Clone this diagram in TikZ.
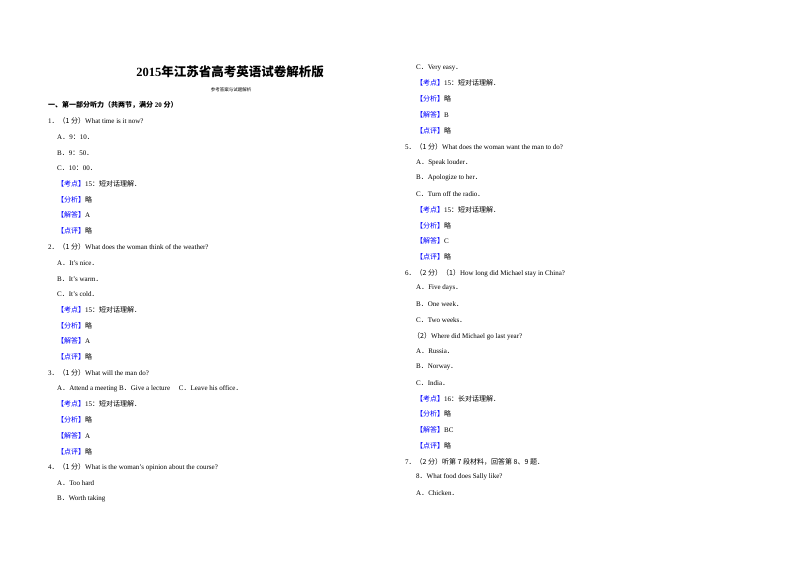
\documentclass[tikz,border=0pt]{standalone}
\usepackage{fontspec}
\setmainfont{Liberation Serif}
\newfontfamily\cjk{Noto Sans CJK SC}
\newcommand\zh[1]{{\cjk #1}}
\newcommand\kd[1]{\textcolor{blue}{\zh{【#1】}}}
\newcommand\dt{\zh{．}}
\newcommand\co{\zh{：}}
\begin{document}
\begin{tikzpicture}[x=1pt,y=-1pt,
  t/.style={anchor=west,inner sep=0pt,font=\fontsize{7}{8}\selectfont}]
\useasboundingbox[fill=white] (0,0) rectangle (800,565);
\node[inner sep=0pt,font=\bfseries\fontsize{12.5}{14}\selectfont] (title) at (230,72) {2015\zh{年江苏省高考英语试卷解析版}};
\node[inner sep=0pt,font=\fontsize{4.5}{5}\selectfont] (sub) at (231,90) {\zh{参考答案与试题解析}};
\node[t,font=\bfseries\fontsize{7}{8}\selectfont] (sec) at (48,105) {\zh{一、第一部分听力（共两节，满分} 20 \zh{分）}};
% left column
\node[t] (l1) at (48,121) {1\zh{．（1 分）}What time is it now?};
\node[t] (l2) at (57,137) {A\dt 9\co 10\dt};
\node[t] (l3) at (57,153) {B\dt 9\co 50\dt};
\node[t] (l4) at (57,168) {C\dt 10\co 00\dt};
\node[t] (l5) at (57,184) {\kd{考点}15\zh{：短对话理解．}};
\node[t] (l6) at (57,200) {\kd{分析}\zh{略}};
\node[t] (l7) at (57,215) {\kd{解答}A};
\node[t] (l8) at (57,231) {\kd{点评}\zh{略}};
\node[t] (l9) at (48,247) {2\zh{．（1 分）}What does the woman think of the weather?};
\node[t] (l10) at (57,263) {A\dt It's nice\dt};
\node[t] (l11) at (57,279) {B\dt It's warm\dt};
\node[t] (l12) at (57,294) {C\dt It's cold\dt};
\node[t] (l13) at (57,310) {\kd{考点}15\zh{：短对话理解．}};
\node[t] (l14) at (57,326) {\kd{分析}\zh{略}};
\node[t] (l15) at (57,341) {\kd{解答}A};
\node[t] (l16) at (57,357) {\kd{点评}\zh{略}};
\node[t] (l17) at (48,373) {3\zh{．（1 分）}What will the man do?};
\node[t] (l18) at (57,389) {A\dt Attend a meeting B\dt Give a lecture\quad\ C\dt Leave his office\dt};
\node[t] (l19) at (57,404) {\kd{考点}15\zh{：短对话理解．}};
\node[t] (l20) at (57,420) {\kd{分析}\zh{略}};
\node[t] (l21) at (57,436) {\kd{解答}A};
\node[t] (l22) at (57,452) {\kd{点评}\zh{略}};
\node[t] (l23) at (48,467) {4\zh{．（1 分）}What is the woman's opinion about the course?};
\node[t] (l24) at (57,483) {A\dt Too hard};
\node[t] (l25) at (57,499) {B\dt Worth taking};
% right column
\node[t] (r1) at (416,68) {C\dt Very easy\dt};
\node[t] (r2) at (416,83) {\kd{考点}15\zh{：短对话理解．}};
\node[t] (r3) at (416,99) {\kd{分析}\zh{略}};
\node[t] (r4) at (416,115) {\kd{解答}B};
\node[t] (r5) at (416,131) {\kd{点评}\zh{略}};
\node[t] (r6) at (405,147) {5\zh{．（1 分）}What does the woman want the man to do?};
\node[t] (r7) at (416,163) {A\dt Speak louder\dt};
\node[t] (r8) at (416,178) {B\dt Apologize to her\dt};
\node[t] (r9) at (416,194) {C\dt Turn off the radio\dt};
\node[t] (r10) at (416,210) {\kd{考点}15\zh{：短对话理解．}};
\node[t] (r11) at (416,226) {\kd{分析}\zh{略}};
\node[t] (r12) at (416,241) {\kd{解答}C};
\node[t] (r13) at (416,257) {\kd{点评}\zh{略}};
\node[t] (r14) at (405,273) {6\zh{．（2 分）（1）}How long did Michael stay in China?};
\node[t] (r15) at (416,288) {A\dt Five days\dt};
\node[t] (r16) at (416,304) {B\dt One week\dt};
\node[t] (r17) at (416,320) {C\dt Two weeks\dt};
\node[t] (r18) at (413,336) {\zh{（2）}Where did Michael go last year?};
\node[t] (r19) at (416,351) {A\dt Russia\dt};
\node[t] (r20) at (416,367) {B\dt Norway\dt};
\node[t] (r21) at (416,383) {C\dt India\dt};
\node[t] (r22) at (416,399) {\kd{考点}16\zh{：长对话理解．}};
\node[t] (r23) at (416,414) {\kd{分析}\zh{略}};
\node[t] (r24) at (416,430) {\kd{解答}BC};
\node[t] (r25) at (416,446) {\kd{点评}\zh{略}};
\node[t] (r26) at (405,462) {7\zh{．（2 分）听第 7 段材料，回答第 8、9 题．}};
\node[t] (r27) at (416,477) {8\dt What food does Sally like?};
\node[t] (r28) at (416,493) {A\dt Chicken\dt};
\end{tikzpicture}
\end{document}
